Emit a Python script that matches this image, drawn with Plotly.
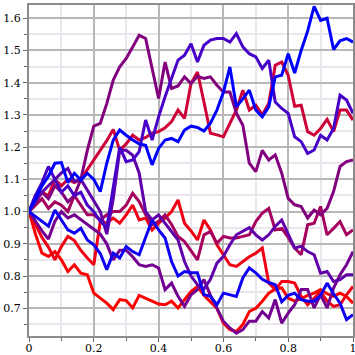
import plotly.graph_objects as go

t = [0.0, 0.02, 0.04, 0.06, 0.08, 0.1, 0.12, 0.14, 0.16, 0.18, 0.2, 0.22, 0.24, 0.26, 0.28,
     0.3, 0.32, 0.34, 0.36, 0.38, 0.4, 0.42, 0.44, 0.46, 0.48, 0.5, 0.52, 0.54, 0.56, 0.58,
     0.6, 0.62, 0.64, 0.66, 0.68, 0.7, 0.72, 0.74, 0.76, 0.78, 0.8, 0.82, 0.84, 0.86, 0.88,
     0.9, 0.92, 0.94, 0.96, 0.98, 1.0]

walk_red = [1.0, 0.93, 0.871, 0.861, 0.876, 0.85, 0.814, 0.835, 0.809, 0.804, 0.747, 0.732, 0.716,
            0.696, 0.727, 0.724, 0.701, 0.74, 0.73, 0.722, 0.713, 0.711, 0.722, 0.701, 0.727, 0.752,
            0.768, 0.74, 0.72, 0.70, 0.654, 0.634, 0.628, 0.65, 0.69, 0.70, 0.722, 0.747, 0.76,
            0.763, 0.732, 0.722, 0.73, 0.74, 0.747, 0.758, 0.745, 0.737, 0.747, 0.737, 0.716]
walk_red2 = [1.0, 0.96, 0.92, 0.89, 0.85, 0.892, 0.923, 0.91, 0.88, 0.856, 0.835, 0.969, 0.965,
             0.98, 0.964, 0.99, 1.02, 0.974, 0.98, 0.943, 0.964, 0.98, 1.0, 1.036, 0.964, 0.94,
             0.912, 0.974, 0.943, 0.897, 0.866, 0.835, 0.83, 0.845, 0.86, 0.871, 0.887, 0.778,
             0.758, 0.783, 0.783, 0.778, 0.737, 0.711, 0.732, 0.752, 0.722, 0.706, 0.711, 0.742, 0.768]
walk_crimson = [1.0, 1.03, 1.06, 1.05, 1.10, 1.08, 1.10, 1.09, 1.10, 1.13, 1.16, 1.19, 1.22, 1.255,
                1.19, 1.21, 1.237, 1.222, 1.23, 1.243, 1.248, 1.26, 1.279, 1.315, 1.289, 1.397,
                1.433, 1.34, 1.243, 1.238, 1.232, 1.274, 1.315, 1.377, 1.315, 1.33, 1.30, 1.336,
                1.454, 1.464, 1.423, 1.327, 1.33, 1.248, 1.237, 1.258, 1.286, 1.248, 1.315, 1.315, 1.284]
walk_magenta = [1.0, 1.02, 1.04, 1.01, 1.03, 1.02, 1.0, 1.05, 1.02, 0.99, 0.99, 0.974, 0.99, 1.0,
                1.0, 1.02, 1.057, 1.031, 0.99, 0.959, 0.97, 0.99, 0.96, 0.923, 0.907, 0.88, 0.85,
                0.928, 0.938, 0.902, 0.923, 0.918, 0.918, 0.923, 0.928, 0.969, 0.995, 1.01, 0.943,
                0.948, 0.92, 0.887, 0.866, 0.959, 0.964, 1.016, 0.928, 0.948, 0.969, 0.928, 0.943]
walk_purple = [1.0, 1.05, 1.06, 1.04, 1.08, 1.06, 1.03, 1.05, 1.10, 1.19, 1.265, 1.274, 1.335,
               1.408, 1.449, 1.475, 1.511, 1.547, 1.537, 1.449, 1.351, 1.464, 1.382, 1.39, 1.418,
               1.397, 1.42, 1.413, 1.418, 1.392, 1.371, 1.371, 1.305, 1.268, 1.15, 1.124, 1.19,
               1.16, 1.176, 1.119, 1.041, 1.021, 1.016, 0.98, 1.005, 0.99, 1.01, 1.062, 1.14, 1.155, 1.16]
walk_plum = [1.0, 0.97, 0.94, 0.915, 0.97, 1.0, 0.98, 0.99, 0.975, 0.96, 0.945, 0.93, 0.90, 0.85,
             0.88, 0.88, 0.86, 0.835, 0.83, 0.835, 0.825, 0.758, 0.778, 0.737, 0.706, 0.742, 0.758,
             0.789, 0.74, 0.70, 0.66, 0.639, 0.623, 0.634, 0.66, 0.66, 0.69, 0.67, 0.727, 0.654,
             0.685, 0.711, 0.758, 0.758, 0.701, 0.742, 0.701, 0.763, 0.804, 0.835, 0.876]
walk_violet = [1.0, 1.03, 1.06, 1.08, 1.10, 1.12, 1.134, 1.093, 1.10, 1.067, 1.03, 1.0, 0.93, 1.04,
               1.19, 1.19, 1.175, 1.12, 1.0, 0.974, 0.99, 0.964, 0.938, 0.912, 0.845, 0.80, 0.773,
               0.76, 0.79, 0.84, 0.861, 0.897, 0.928, 0.938, 0.95, 0.928, 0.912, 0.928, 0.954,
               0.974, 0.933, 0.887, 0.892, 0.876, 0.866, 0.809, 0.814, 0.783, 0.789, 0.804, 0.804]
walk_indigo = [1.0, 1.05, 1.09, 1.14, 1.10, 1.06, 1.08, 1.05, 1.06, 1.02, 1.00, 0.97, 0.95, 1.08,
               1.20, 1.155, 1.16, 1.186, 1.284, 1.222, 1.294, 1.356, 1.413, 1.47, 1.485, 1.521,
               1.464, 1.516, 1.532, 1.537, 1.537, 1.526, 1.552, 1.511, 1.49, 1.48, 1.444, 1.47,
               1.34, 1.32, 1.305, 1.232, 1.217, 1.18, 1.191, 1.237, 1.222, 1.258, 1.361, 1.346, 1.305]
walk_blue2 = [1.0, 0.985, 0.97, 0.955, 1.005, 0.974, 0.943, 0.933, 0.948, 0.912, 0.897, 0.87, 0.82,
              0.871, 0.856, 0.892, 0.876, 0.866, 0.92, 0.974, 0.943, 0.918, 0.845, 0.80, 0.814,
              0.81, 0.81, 0.742, 0.737, 0.711, 0.747, 0.742, 0.737, 0.794, 0.825, 0.81, 0.79,
              0.78, 0.773, 0.72, 0.74, 0.747, 0.727, 0.722, 0.722, 0.74, 0.778, 0.745, 0.716, 0.665, 0.68]
walk_blue = [1.0, 1.04, 1.08, 1.11, 1.15, 1.152, 1.09, 1.119, 1.098, 1.119, 1.10, 1.062, 1.15,
             1.222, 1.253, 1.237, 1.222, 1.21, 1.206, 1.145, 1.196, 1.222, 1.227, 1.217, 1.253,
             1.265, 1.261, 1.25, 1.274, 1.315, 1.37, 1.449, 1.325, 1.35, 1.377, 1.315, 1.294,
             1.325, 1.418, 1.423, 1.49, 1.43, 1.50, 1.56, 1.637, 1.593, 1.60, 1.503, 1.53, 1.537, 1.526]

series = [
    (walk_red, "rgb(255,0,0)"),
    (walk_red2, "rgb(240,0,20)"),
    (walk_crimson, "rgb(205,0,55)"),
    (walk_magenta, "rgb(165,0,95)"),
    (walk_purple, "rgb(130,0,125)"),
    (walk_plum, "rgb(115,0,145)"),
    (walk_violet, "rgb(95,0,170)"),
    (walk_indigo, "rgb(70,0,200)"),
    (walk_blue2, "rgb(15,0,245)"),
    (walk_blue, "rgb(0,0,255)"),
]

x_ticks = [0, 0.2, 0.4, 0.6, 0.8, 1.0]
x_tick_text = ["0", "0.2", "0.4", "0.6", "0.8", "1"]
x_minor = [0.1, 0.3, 0.5, 0.7, 0.9]
y_ticks = [0.7, 0.8, 0.9, 1.0, 1.1, 1.2, 1.3, 1.4, 1.5, 1.6]
y_tick_text = ["0.7", "0.8", "0.9", "1.0", "1.1", "1.2", "1.3", "1.4", "1.5", "1.6"]
y_minor = [0.65, 0.75, 0.85, 0.95, 1.05, 1.15, 1.25, 1.35, 1.45, 1.55]

fig = go.Figure()
for vals, col in series:
    fig.add_trace(go.Scatter(x=t, y=vals, mode="lines",
                             line=dict(color=col, width=3),
                             showlegend=False, hoverinfo="skip"))

font = dict(family="DejaVu Serif", size=11, color="black")
axis_common = dict(
    showgrid=True, gridcolor="#b8b8b8", gridwidth=1.5,
    showline=True, linecolor="#8c8c8c", linewidth=2, mirror=True,
    ticks="outside", ticklen=4, tickcolor="#666", tickwidth=1,
    zeroline=False, tickfont=font, automargin=False,
    ticklabeloverflow="allow",
)
fig.update_layout(
    width=355, height=355,
    margin=dict(l=28.5, r=2, t=5, b=19),
    paper_bgcolor="white", plot_bgcolor="white",
    xaxis=dict(range=[0, 1], tickmode="array", tickvals=x_ticks, ticktext=x_tick_text,
               ticklabelstandoff=-3,
               minor=dict(tickvals=x_minor, showgrid=True, gridcolor="#ebe6ee", gridwidth=1.5,
                          ticks="outside", ticklen=3, tickcolor="#666"),
               **axis_common),
    yaxis=dict(range=[0.614, 1.641], tickmode="array", tickvals=y_ticks, ticktext=y_tick_text,
               minor=dict(tickvals=y_minor, showgrid=True, gridcolor="#ebe6ee", gridwidth=1.5,
                          ticks="outside", ticklen=3, tickcolor="#666"),
               **axis_common),
)
fig.write_html("out.html", config={"displayModeBar": False},
               post_script="document.body.style.margin='0px';")
